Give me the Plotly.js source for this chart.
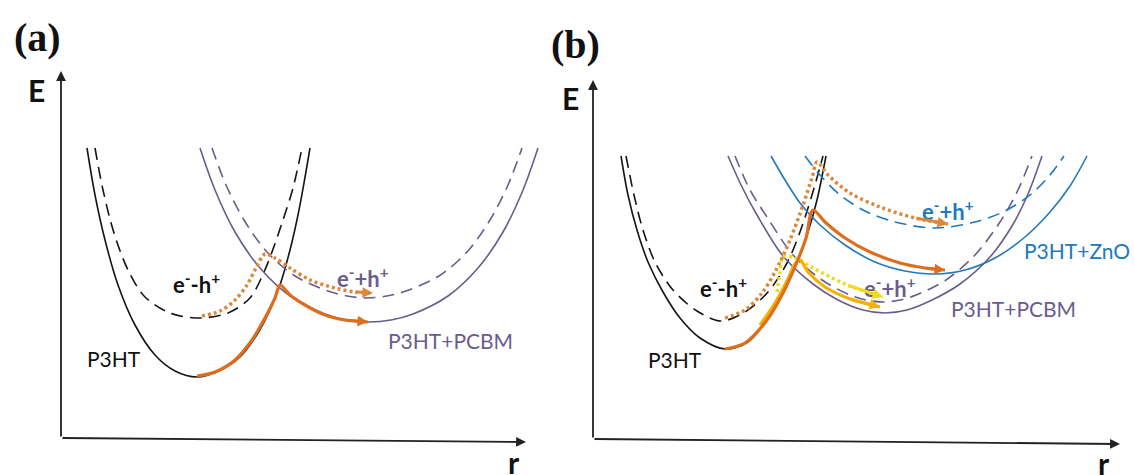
<!DOCTYPE html>
<html>
<head>
<meta charset="utf-8">
<script src="https://cdn.plot.ly/plotly-3.0.1.min.js"></script>
<style>html,body{margin:0;padding:0;background:#fff;}#chart{width:1134px;height:475px;}</style>
</head>
<body>
<div id="chart"></div>
<script>
// ---------- Panel (a): r / E values ----------
const aP3HT_r = [26,34,44,57,74,94,114,136,158,179,197,209,219,229,237,243,249];
const aP3HT_E = [290,243,198,153,113,83,67,61,67,81,105,128,153,188,223,255,290];
const aP3HTx_r = [34,42,53,67,84,109,138,167,189,203,211,222,232,241];
const aP3HTx_E = [290,248,205,168,141,125,120,125,140,166,186,218,250,290];
const aPCBM_r = [139,154,174,199,229,264,286,308,330,352,387,417,442,462,477];
const aPCBM_E = [290,248,206,170,142,124,118,116,118,124,142,170,206,248,290];
const aPCBMx_r = [151,165,183,206,234,267,286,306,326,345,378,406,429,447,461];
const aPCBMx_E = [290,253,218,186,162,147,142,140,142,147,162,186,218,253,290];
const aPathSolid_r = [136,154,174,191,204,214,219,229,244,264,284,307];
const aPathSolid_E = [62,66,78,98,120,140,153,143,133,123,118,116];
const aPathDot_r = [141,159,174,186,195,204,214,229,249,274,294,312];
const aPathDot_E = [122,127,138,153,170,184,180,170,158,150,146,145];

// ---------- Panel (b) ----------
const bP3HT_r = [28,35,44,55,70,87,107,132,155,174,190,204,215,224,233];
const bP3HT_E = [283,244,209,177,147,121,101,90,97,119,146,177,207,239,283];
const bP3HTx_r = [33,41,50,62,80,104,128,152,175,194,207,219,230];
const bP3HTx_E = [283,244,209,177,149,128,118,127,147,176,207,244,283];
const bPCBM_r = [135,149,164,190,220,245,270,292,314,339,367,397,419,435,449];
const bPCBM_E = [283,252,224,183,155,139,129,126,129,139,155,182,213,245,283];
const bPCBMx_r = [142,157,174,200,229,257,273,290,307,323,353,382,407,425,439];
const bPCBMx_E = [283,249,222,184,159,144,139,137,139,144,159,184,217,249,283];
const bZnO_r = [178,192,207,227,252,282,312,342,372,402,432,457,477,494];
const bZnO_E = [283,259,236,214,194,177,168,165,169,181,202,227,253,283];
const bZnOx_r = [212,227,247,272,302,342,382,412,437,457,471];
const bZnOx_E = [283,264,244,228,217,211,217,228,244,264,283];
const bPathSolid_r = [132,152,174,190,204,213,220,232,252,277,307,332,352];
const bPathSolid_E = [90,96,119,146,177,201,229,217,201,187,176,171,169];
const bPathDot_r = [132,152,169,182,197,210,219,224,235,257,287,322,355];
const bPathDot_E = [121,129,146,167,199,234,261,277,264,246,232,221,215];
const bYelSolid_r = [167,182,194,202,207,215,232,257,287];
const bYelSolid_E = [114,136,158,175,179,167,152,140,132];
const bYelDot_r = [184,187,190,202,220,254,290];
const bYelDot_E = [147,167,182,181,171,154,142];

// ---------- labels ----------
const panelLabels = ['(a)', '(b)'];
const labelExciton = 'e<sup>-</sup>-h<sup>+</sup>';
const labelCharge = 'e<sup>-</sup>+h<sup>+</sup>';
const labelP3HT = 'P3HT';
const labelPCBM = 'P3HT+PCBM';
const labelZnO = 'P3HT+ZnO';

const BLACK = '#151515', PURPLE = '#6B5C8C', BLUE = '#2079BE';
const ORANGE = '#DE6E1E', ORANGE_DOT = '#DC873A', GOLD = '#F2B300', YEL_DOT = '#EEDB22';

function curve(r, E, color, dash, width, ax) {
  return {x: r, y: E, xaxis: ax[0], yaxis: ax[1], type: 'scatter', mode: 'lines',
    line: {color: color, width: width, dash: dash, shape: 'spline', smoothing: 0.9},
    hoverinfo: 'skip', showlegend: false};
}
const A = ['x', 'y'], B = ['x2', 'y2'];
const DASH = '12px,7px';

// arrow paths: [r, E, colour, dash, width, axes]
const paths = [
  [aPathDot_r, aPathDot_E, ORANGE_DOT, '3px,3px', 3.5, A],
  [aPathSolid_r, aPathSolid_E, ORANGE, 'solid', 3.2, A],
  [bYelDot_r, bYelDot_E, YEL_DOT, '3px,3px', 3.5, B],
  [bPathDot_r, bPathDot_E, ORANGE_DOT, '3px,3px', 3.5, B],
  [bYelSolid_r, bYelSolid_E, GOLD, 'solid', 3.2, B],
  [bPathSolid_r, bPathSolid_E, ORANGE, 'solid', 3.2, B]
];

const traces = [
  curve(aP3HT_r, aP3HT_E, BLACK, 'solid', 1.6, A),
  curve(aP3HTx_r, aP3HTx_E, BLACK, DASH, 1.6, A),
  curve(aPCBM_r, aPCBM_E, PURPLE, 'solid', 1.6, A),
  curve(aPCBMx_r, aPCBMx_E, PURPLE, DASH, 1.6, A),
  curve(bP3HT_r, bP3HT_E, BLACK, 'solid', 1.6, B),
  curve(bP3HTx_r, bP3HTx_E, BLACK, DASH, 1.6, B),
  curve(bPCBM_r, bPCBM_E, PURPLE, 'solid', 1.6, B),
  curve(bPCBMx_r, bPCBMx_E, PURPLE, DASH, 1.6, B),
  curve(bZnO_r, bZnO_E, BLUE, 'solid', 1.6, B),
  curve(bZnOx_r, bZnOx_E, BLUE, DASH, 1.6, B)
].concat(paths.map(p => curve(p[0], p[1], p[2], p[3], p[4], p[5])));

function txt(x, y, text, ax, size, color, bold, family) {
  return {x: x, y: y, xref: ax[0], yref: ax[1], text: bold ? '<b>' + text + '</b>' : text,
    showarrow: false, font: {size: size, color: color, family: family || 'Lato, "Open Sans", sans-serif'},
    xanchor: 'center', yanchor: 'middle'};
}
function axisArrow(x, y, ax) {
  return {x: x, y: y, ax: 0, ay: 0, xref: ax[0], yref: ax[1], axref: ax[0], ayref: ax[1],
    showarrow: true, arrowhead: 2, arrowsize: 1.1, arrowwidth: 1.8, arrowcolor: '#222', text: ''};
}
function pathHead(p) {
  const n = p[0].length;
  return {x: p[0][n - 1], y: p[1][n - 1], ax: p[0][n - 2], ay: p[1][n - 2],
    xref: p[5][0], yref: p[5][1], axref: p[5][0], ayref: p[5][1],
    showarrow: true, arrowhead: 2, arrowsize: 0.7, arrowwidth: 3, arrowcolor: p[2], text: ''};
}
const SERIF = '"Liberation Serif", "Times New Roman", serif';
const annotations = [
  axisArrow(0, 367, A), axisArrow(465, -4, A),
  axisArrow(0, 359, B), axisArrow(527, -5, B),
  txt(-24, 401, panelLabels[0], A, 40, '#111', true, SERIF),
  txt(-18, 395, panelLabels[1], B, 40, '#111', true, SERIF),
  txt(-25, 348, 'E', A, 30, '#111', true),
  txt(-23, 341, 'E', B, 30, '#111', true),
  txt(453, -24, 'r', A, 30, '#111', true),
  txt(511, -24, 'r', B, 30, '#111', true),
  txt(135, 155, labelExciton, A, 22, '#111', true),
  txt(302, 161, labelCharge, A, 22, PURPLE, true),
  txt(53, 80, labelP3HT, A, 21, '#111', false),
  txt(389, 98, labelPCBM, A, 21, PURPLE, false),
  txt(130, 152, labelExciton, B, 22, '#111', true),
  txt(297, 152, labelCharge, B, 22, PURPLE, true),
  txt(355, 229, labelCharge, B, 22, BLUE, true),
  txt(82, 80, labelP3HT, B, 21, '#111', false),
  txt(420, 131, labelPCBM, B, 21, PURPLE, false),
  txt(484, 189, labelZnO, B, 21, BLUE, false)
].concat(paths.map(pathHead));

const hidden = {showgrid: false, zeroline: false, showticklabels: false, showline: false, ticks: '', fixedrange: true};
const layout = {
  width: 1134, height: 475,
  margin: {l: 0, r: 0, t: 0, b: 0},
  paper_bgcolor: '#fff', plot_bgcolor: '#fff',
  showlegend: false,
  xaxis: Object.assign({domain: [0, 0.5], range: [-61, 506]}, hidden),
  yaxis: Object.assign({domain: [0, 1], range: [-37, 438]}, hidden),
  xaxis2: Object.assign({domain: [0.5, 1], range: [-26, 541]}, hidden),
  yaxis2: Object.assign({domain: [0, 1], range: [-36, 439]}, hidden),
  annotations: annotations
};
Plotly.newPlot('chart', traces, layout, {displayModeBar: false, staticPlot: true});
</script>
</body>
</html>
